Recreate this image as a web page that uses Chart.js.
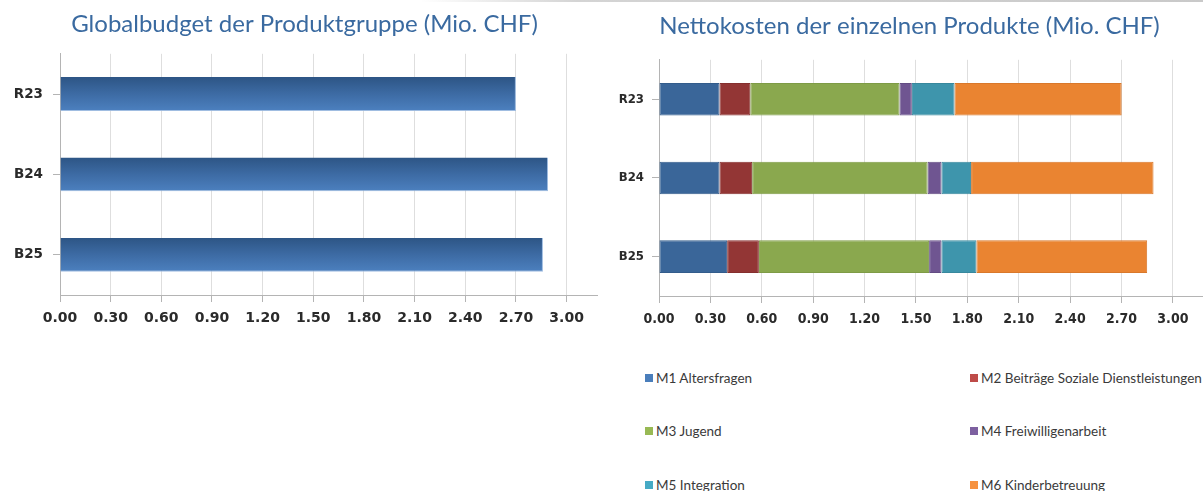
<!DOCTYPE html>
<html>
<head>
<meta charset="utf-8">
<script src="https://cdn.jsdelivr.net/npm/chart.js@4/dist/chart.umd.min.js"></script>
<style>
  html, body { margin: 0; padding: 0; background: #fff; }
  body { width: 1203px; height: 491px; overflow: hidden; position: relative; }
  #topline { position: absolute; left: 420px; top: 0; width: 783px; height: 2px;
             background: linear-gradient(to right, rgba(210,210,210,0), #d4d4d4 20%, #c9c9c9); }
  #budget { position: absolute; left: 0; top: 0; }
  #products { position: absolute; left: 617px; top: 0; }
  #legend { position: absolute; left: 645px; top: 351px; display: grid;
            grid-template-columns: 325px 240px; grid-auto-rows: 53.5px; align-items: center;
            font: 13.5px Lato, "Open Sans", sans-serif; color: #3a3a3a; }
  #legend .item { white-space: nowrap; display: flex; align-items: center; }
  #legend .sw { display: inline-block; width: 8px; height: 8px; margin-right: 3px; }
</style>
</head>
<body>
<div id="topline"></div>
<canvas id="budget" width="616" height="325"></canvas>
<canvas id="products" width="586" height="326"></canvas>
<div id="legend"></div>
<script>
// Years / budget versions
const categories = ['R23', 'B24', 'B25'];

// Globalbudget der Produktgruppe (Mio. CHF)
const globalBudget = [2.70, 2.89, 2.86];

// Nettokosten der einzelnen Produkte (Mio. CHF)
const productNames = [
  'M1 Altersfragen',
  'M2 Beiträge Soziale Dienstleistungen',
  'M3 Jugend',
  'M4 Freiwilligenarbeit',
  'M5 Integration',
  'M6 Kinderbetreuung'
];
const m1Altersfragen       = [0.353, 0.353, 0.398];
const m2Beitraege          = [0.180, 0.191, 0.185];
const m3Jugend             = [0.871, 1.024, 0.994];
const m4Freiwilligenarbeit = [0.072, 0.081, 0.072];
const m5Integration        = [0.249, 0.173, 0.204];
const m6Kinderbetreuung    = [0.976, 1.065, 0.997];

// Value axis ticks
const tickValues = [0, 0.3, 0.6, 0.9, 1.2, 1.5, 1.8, 2.1, 2.4, 2.7, 3.0];

const productValues = [m1Altersfragen, m2Beitraege, m3Jugend, m4Freiwilligenarbeit, m5Integration, m6Kinderbetreuung];
const productColors = ['#3a6699', '#933635', '#8aa84e', '#6f5591', '#3e95ac', '#ea8431'];
const productBorders = ['#335c8b', '#852f2e', '#7e9b46', '#634c83', '#38889d', '#d9782b'];
const swatchColors = ['#4a7ebb', '#be4b48', '#98b954', '#7d60a0', '#46aac5', '#f69240'];

const AXIS_GREY = '#b4b4b4';
const GRID_GREY = '#dedede';
const TITLE_BLUE = '#3a6aa0';

function valueAxis(max, font, pad) {
  return {
    type: 'linear',
    min: 0,
    max: max,
    afterBuildTicks: s => { s.ticks = tickValues.map(v => ({ value: v })); },
    afterFit: s => { s.height = 30; },
    grid: { color: GRID_GREY, tickColor: AXIS_GREY, tickLength: 7, lineWidth: 1 },
    border: { color: AXIS_GREY },
    ticks: { font: font, color: '#2a2a2a', padding: pad, maxRotation: 0,
             callback: v => Number(v).toFixed(2) }
  };
}

function categoryAxis(width, font, pad) {
  return {
    type: 'category',
    afterFit: s => { s.width = width; },
    grid: { drawOnChartArea: false, offset: false, tickLength: 7, tickColor: AXIS_GREY },
    border: { color: AXIS_GREY },
    ticks: { font: font, color: '#2a2a2a', padding: pad }
  };
}

// Vertical shading for the budget bars, spanning each bar's own height
const BUDGET_BAR_SHARE = 0.42;
function budgetGradient(ctx) {
  const chart = ctx.chart;
  const yScale = chart.scales && chart.scales.y;
  if (!yScale || ctx.dataIndex === undefined || !chart.chartArea) return '#3f6fa8';
  const center = yScale.getPixelForValue(ctx.dataIndex);
  const step = yScale.height / categories.length;
  const half = step * BUDGET_BAR_SHARE / 2;
  const g = chart.ctx.createLinearGradient(0, center - half, 0, center + half);
  g.addColorStop(0, '#2d5585');
  g.addColorStop(0.5, '#3d6ba4');
  g.addColorStop(1, '#4c80bf');
  return g;
}

const boldWideX = { family: '"DejaVu Sans", Verdana, sans-serif', size: 14, weight: 'bold' };
const boldWideY = { family: '"DejaVu Sans", Verdana, sans-serif', size: 13.5, weight: 'bold' };
const boldNarrowX = { family: '"Liberation Sans Narrow", "DejaVu Sans Condensed", sans-serif', size: 14, weight: 'bold' };
const boldNarrowY = { family: '"Liberation Sans Narrow", "DejaVu Sans Condensed", sans-serif', size: 13, weight: 'bold' };
const titleFont = { family: 'Lato, "Open Sans", sans-serif', size: 24, weight: 'normal' };

new Chart(document.getElementById('budget'), {
  type: 'bar',
  data: {
    labels: categories,
    datasets: [{
      label: 'Globalbudget',
      data: globalBudget,
      backgroundColor: budgetGradient,
      borderColor: 'rgba(150,182,222,0.9)',
      borderWidth: { top: 0, left: 0, right: 1, bottom: 1 },
      borderSkipped: false,
      categoryPercentage: BUDGET_BAR_SHARE,
      barPercentage: 1
    }]
  },
  options: {
    indexAxis: 'y',
    responsive: false,
    animation: false,
    layout: { padding: { left: 12, right: 19, top: 0, bottom: 0 } },
    scales: {
      x: valueAxis(3.18, boldWideX, 8),
      y: categoryAxis(48, boldWideY, 10)
    },
    plugins: {
      legend: { display: false },
      tooltip: { enabled: false },
      title: { display: true, text: 'Globalbudget der Produktgruppe (Mio. CHF)',
               color: TITLE_BLUE, font: titleFont, padding: { top: 10, bottom: 15 } }
    }
  }
});

const productChart = new Chart(document.getElementById('products'), {
  type: 'bar',
  data: {
    labels: categories,
    datasets: productNames.map((name, i) => ({
      label: name,
      data: productValues[i],
      backgroundColor: productColors[i],
      borderColor: productBorders[i],
      borderWidth: 1,
      borderSkipped: false,
      categoryPercentage: 0.413,
      barPercentage: 1
    }))
  },
  options: {
    indexAxis: 'y',
    responsive: false,
    animation: false,
    layout: { padding: { left: 0, right: 1, top: 0, bottom: 0 } },
    scales: {
      x: Object.assign(valueAxis(3.17, boldNarrowX, 8), { stacked: true }),
      y: Object.assign(categoryAxis(42, boldNarrowY, 8), { stacked: true })
    },
    plugins: {
      legend: { display: false },
      tooltip: { enabled: false },
      title: { display: true, text: 'Nettokosten der einzelnen Produkte (Mio. CHF)',
               color: TITLE_BLUE, font: titleFont, padding: { top: 12, bottom: 19 } }
    }
  }
});

// Legend below the product chart, two columns, built from the chart's datasets
const legendBox = document.getElementById('legend');
productChart.data.datasets.forEach((ds, i) => {
  const item = document.createElement('div');
  item.className = 'item';
  const sw = document.createElement('span');
  sw.className = 'sw';
  sw.style.background = swatchColors[i];
  item.appendChild(sw);
  item.appendChild(document.createTextNode(ds.label));
  legendBox.appendChild(item);
});
</script>
</body>
</html>
